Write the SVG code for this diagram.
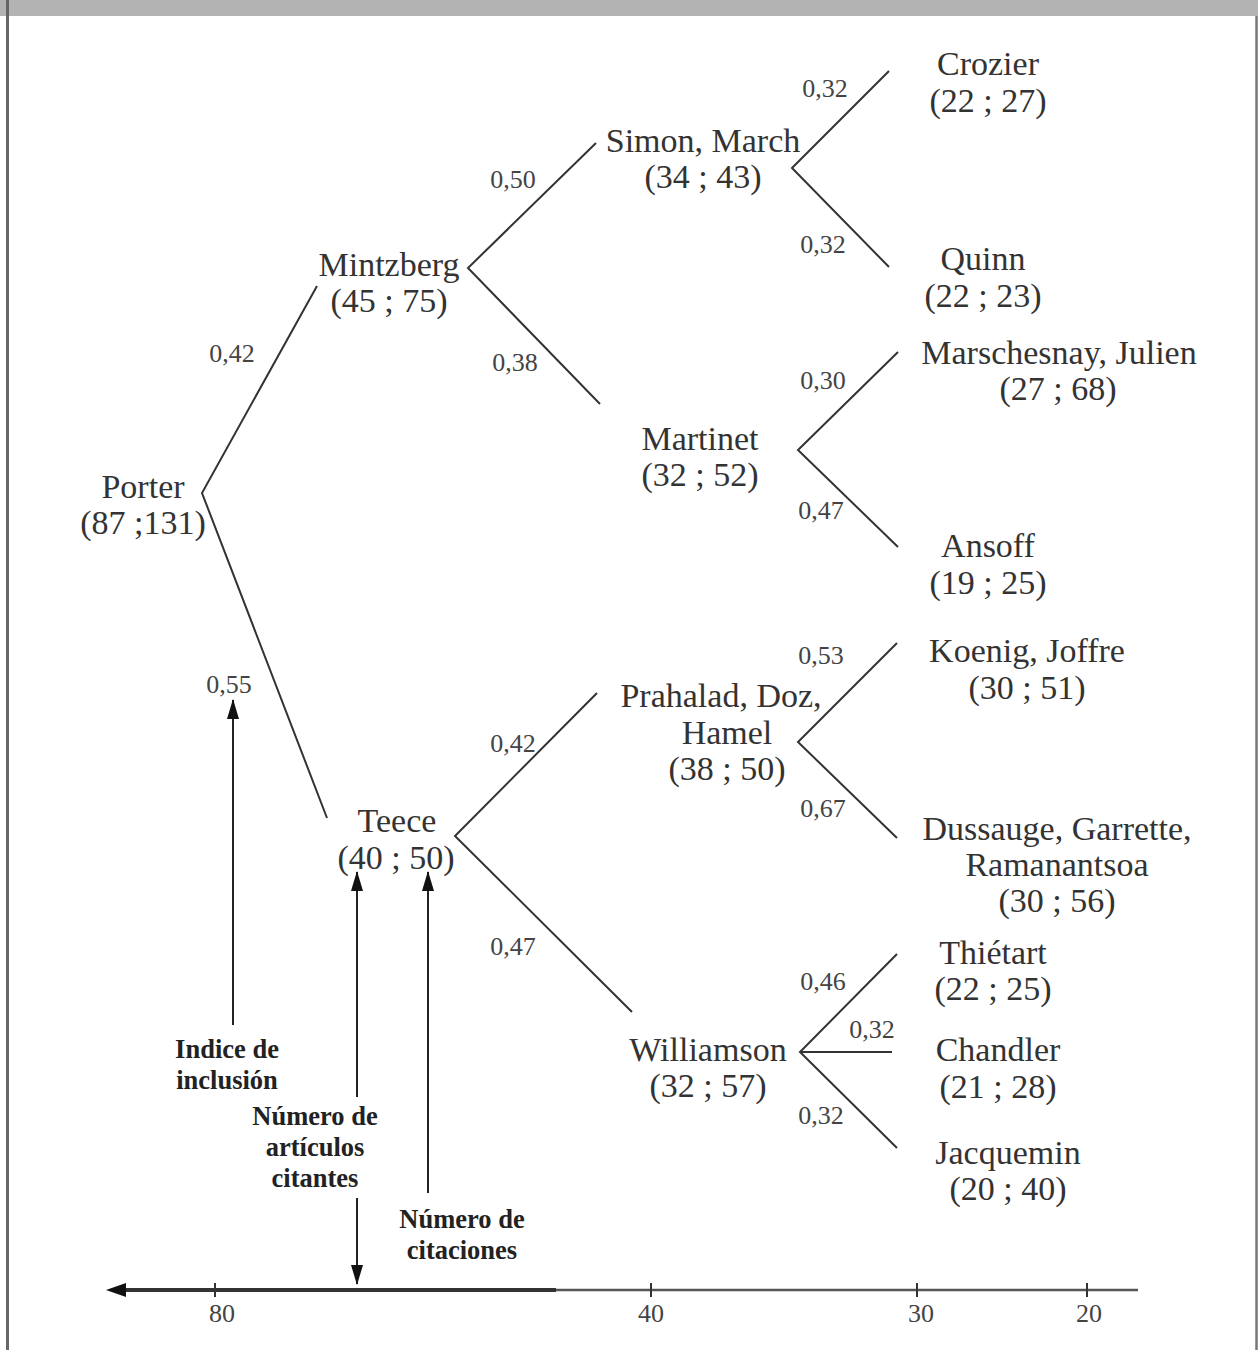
<svg xmlns="http://www.w3.org/2000/svg" width="1258" height="1350" viewBox="0 0 1258 1350">
<style>
.n{font-family:"Liberation Serif","Times New Roman",serif;font-size:34px;fill:#333;text-anchor:middle}
.w{font-family:"Liberation Serif","Times New Roman",serif;font-size:26px;fill:#444;text-anchor:middle}
.a{font-family:"Liberation Serif","Times New Roman",serif;font-size:26.5px;font-weight:bold;fill:#222;text-anchor:middle}
.x{font-family:"Liberation Serif","Times New Roman",serif;font-size:26px;fill:#444;text-anchor:middle}
.e{stroke:#333;stroke-width:2;fill:none}
.ar{stroke:#222;stroke-width:2;fill:none}
</style>
<defs>
<marker id="ah" markerWidth="20" markerHeight="14" refX="19" refY="7" orient="auto" markerUnits="userSpaceOnUse">
<path d="M0,1 L20,7 L0,13 Z" fill="#111"/>
</marker>
</defs>
<rect x="0" y="0" width="1258" height="1350" fill="#fff"/>
<rect x="0" y="0" width="1258" height="16" fill="#b3b3b3"/>
<line x1="7.5" y1="0" x2="7.5" y2="1350" stroke="#666" stroke-width="3"/>
<line x1="1256.5" y1="16" x2="1256.5" y2="1350" stroke="#777" stroke-width="2.5"/>

<g id="connectors">
<polyline class="e" points="317,286 202,493 327,818"/>
<polyline class="e" points="596,143 468,268 600,404"/>
<polyline class="e" points="889,71 792,168 889,267"/>
<polyline class="e" points="898,352 798,450 898,547"/>
<polyline class="e" points="597,693 455,836 632,1012"/>
<polyline class="e" points="897,643 798,742 897,838"/>
<polyline class="e" points="897,954 800,1052 897,1148"/>
<line class="e" x1="800" y1="1052" x2="892" y2="1052"/>
</g>

<g id="weights">
<text class="w" x="232" y="362">0,42</text>
<text class="w" x="229" y="693">0,55</text>
<text class="w" x="513" y="188">0,50</text>
<text class="w" x="515" y="371">0,38</text>
<text class="w" x="825" y="97">0,32</text>
<text class="w" x="823" y="253">0,32</text>
<text class="w" x="823" y="389">0,30</text>
<text class="w" x="821" y="519">0,47</text>
<text class="w" x="821" y="664">0,53</text>
<text class="w" x="823" y="817">0,67</text>
<text class="w" x="513" y="752">0,42</text>
<text class="w" x="513" y="955">0,47</text>
<text class="w" x="823" y="990">0,46</text>
<text class="w" x="872" y="1038">0,32</text>
<text class="w" x="821" y="1124">0,32</text>
</g>

<g id="porter"><text class="n" x="143" y="498">Porter</text><text class="n" x="143" y="534">(87 ;131)</text></g>
<g id="mintzberg"><text class="n" x="389" y="276">Mintzberg</text><text class="n" x="389" y="312">(45 ; 75)</text></g>
<g id="simon"><text class="n" x="703" y="152">Simon, March</text><text class="n" x="703" y="188">(34 ; 43)</text></g>
<g id="crozier"><text class="n" x="988" y="75">Crozier</text><text class="n" x="988" y="112">(22 ; 27)</text></g>
<g id="quinn"><text class="n" x="983" y="270">Quinn</text><text class="n" x="983" y="307">(22 ; 23)</text></g>
<g id="marschesnay"><text class="n" x="1059" y="364">Marschesnay, Julien</text><text class="n" x="1058" y="400">(27 ; 68)</text></g>
<g id="martinet"><text class="n" x="700" y="450">Martinet</text><text class="n" x="700" y="486">(32 ; 52)</text></g>
<g id="ansoff"><text class="n" x="988" y="557">Ansoff</text><text class="n" x="988" y="594">(19 ; 25)</text></g>
<g id="koenig"><text class="n" x="1027" y="662">Koenig, Joffre</text><text class="n" x="1027" y="699">(30 ; 51)</text></g>
<g id="prahalad"><text class="n" x="721" y="707">Prahalad, Doz,</text><text class="n" x="727" y="744">Hamel</text><text class="n" x="727" y="780">(38 ; 50)</text></g>
<g id="dussauge"><text class="n" x="1057" y="840">Dussauge, Garrette,</text><text class="n" x="1057" y="876">Ramanantsoa</text><text class="n" x="1057" y="912">(30 ; 56)</text></g>
<g id="teece"><text class="n" x="397" y="832">Teece</text><text class="n" x="396" y="869">(40 ; 50)</text></g>
<g id="thietart"><text class="n" x="993" y="964">Thiétart</text><text class="n" x="993" y="1000">(22 ; 25)</text></g>
<g id="chandler"><text class="n" x="998" y="1061">Chandler</text><text class="n" x="998" y="1098">(21 ; 28)</text></g>
<g id="jacquemin"><text class="n" x="1008" y="1164">Jacquemin</text><text class="n" x="1008" y="1200">(20 ; 40)</text></g>
<g id="williamson"><text class="n" x="708" y="1061">Williamson</text><text class="n" x="708" y="1097">(32 ; 57)</text></g>

<g id="legend">
<line class="ar" x1="233" y1="1025" x2="233" y2="700" marker-end="url(#ah)"/>
<line class="ar" x1="357" y1="1097" x2="357" y2="872" marker-end="url(#ah)"/>
<line class="ar" x1="357" y1="1198" x2="357" y2="1284" marker-end="url(#ah)"/>
<line class="ar" x1="428" y1="1193" x2="428" y2="872" marker-end="url(#ah)"/>
<text class="a" x="227" y="1058">Indice de</text>
<text class="a" x="227" y="1089">inclusión</text>
<text class="a" x="315" y="1125">Número de</text>
<text class="a" x="315" y="1156">artículos</text>
<text class="a" x="315" y="1187">citantes</text>
<text class="a" x="462" y="1228">Número de</text>
<text class="a" x="462" y="1259">citaciones</text>
</g>

<g id="axis">
<line x1="118" y1="1290" x2="1138" y2="1290" stroke="#555" stroke-width="2.5"/>
<line x1="118" y1="1290" x2="556" y2="1290" stroke="#333" stroke-width="4"/>
<path d="M106,1290 L126,1283 L126,1297 Z" fill="#111"/>
<line x1="215" y1="1283" x2="215" y2="1297" stroke="#333" stroke-width="2"/>
<line x1="651" y1="1283" x2="651" y2="1297" stroke="#333" stroke-width="2"/>
<line x1="917" y1="1283" x2="917" y2="1297" stroke="#333" stroke-width="2"/>
<line x1="1087" y1="1283" x2="1087" y2="1297" stroke="#333" stroke-width="2"/>
<text class="x" x="222" y="1322">80</text>
<text class="x" x="651" y="1322">40</text>
<text class="x" x="921" y="1322">30</text>
<text class="x" x="1089" y="1322">20</text>
</g>
</svg>
